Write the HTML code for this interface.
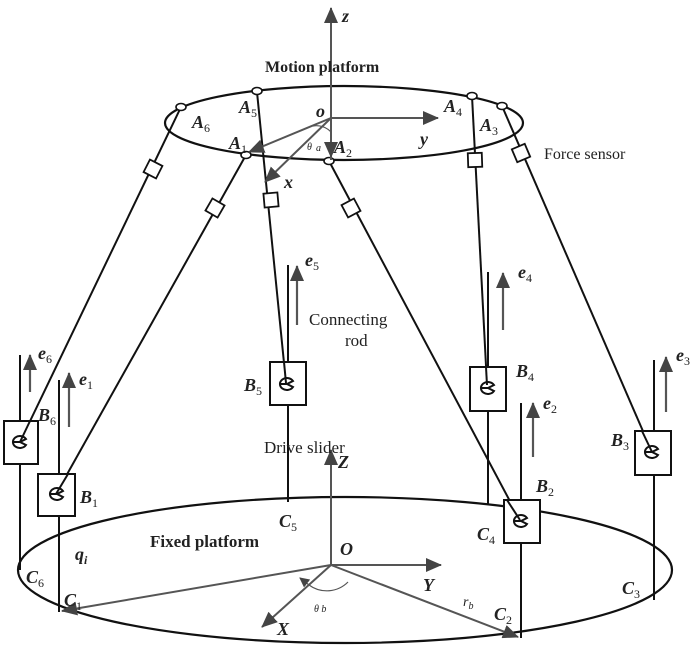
<!DOCTYPE html>
<html><head><meta charset="utf-8"><style>
html,body{margin:0;padding:0;background:#fff;}
svg{display:block;}
text{font-family:"Liberation Serif",serif;fill:#222;}
.b{font-weight:bold;font-style:italic;}
.i{font-style:italic;}
tspan{font-style:normal;}
</style></head><body>
<svg width="700" height="657" viewBox="0 0 700 657" xmlns="http://www.w3.org/2000/svg">
<defs>
<marker id="ah" markerWidth="10" markerHeight="10" refX="9" refY="5" orient="auto" markerUnits="userSpaceOnUse" viewBox="0 0 10 10">
<path d="M0,0 L10,5 L0,10 z" fill="#444"/></marker>
<marker id="ahL" markerWidth="16" markerHeight="14" refX="15" refY="7" orient="auto" markerUnits="userSpaceOnUse" viewBox="0 0 16 14">
<path d="M0,0 L16,7 L0,14 z" fill="#444"/></marker>
</defs>
<g fill="none" stroke="#111" stroke-width="2.2">
<ellipse cx="344" cy="123" rx="179" ry="37"/>
<ellipse cx="345" cy="570" rx="327" ry="73"/>
</g>
<g stroke="#111" stroke-width="2" fill="none">
<line x1="20" y1="355" x2="20" y2="570"/>
<line x1="59" y1="380" x2="59" y2="612"/>
<line x1="288" y1="265" x2="288" y2="502"/>
<line x1="488" y1="272" x2="488" y2="505"/>
<line x1="521" y1="403" x2="521" y2="638"/>
<line x1="654" y1="360" x2="654" y2="600"/>
<line x1="181" y1="107" x2="20" y2="442"/>
<line x1="246" y1="155" x2="56" y2="494"/>
<line x1="257" y1="92" x2="286" y2="383"/>
<line x1="329" y1="161" x2="520" y2="520"/>
<line x1="472" y1="96" x2="487" y2="385"/>
<line x1="502" y1="106" x2="652" y2="452"/>
</g>
<g fill="#fff" stroke="#111" stroke-width="2">
<rect x="4" y="421" width="34" height="43"/>
<rect x="38" y="474" width="37" height="42"/>
<rect x="270" y="362" width="36" height="43"/>
<rect x="470" y="367" width="36" height="44"/>
<rect x="504" y="500" width="36" height="43"/>
<rect x="635" y="431" width="36" height="44"/>
</g>
<g stroke="#111" stroke-width="2">
<line x1="30" y1="421" x2="20" y2="442"/>
<line x1="68" y1="474" x2="56" y2="494"/>
<line x1="284" y1="362" x2="286" y2="383"/>
<line x1="486" y1="367" x2="487" y2="385"/>
<line x1="507" y1="500" x2="520" y2="520"/>
<line x1="642" y1="431" x2="652" y2="452"/>
</g>
<g fill="none" stroke="#111" stroke-width="2">
<g transform="translate(20,442)"><path d="M6,-3 A7,6 0 1 0 6,3 L0,0 Z"/><line x1="-7" y1="0" x2="0" y2="0"/></g>
<g transform="translate(57,494)"><path d="M6,-3 A7,6 0 1 0 6,3 L0,0 Z"/><line x1="-7" y1="0" x2="0" y2="0"/></g>
<g transform="translate(287,384)"><path d="M6,-3 A7,6 0 1 0 6,3 L0,0 Z"/><line x1="-7" y1="0" x2="0" y2="0"/></g>
<g transform="translate(488,388)"><path d="M6,-3 A7,6 0 1 0 6,3 L0,0 Z"/><line x1="-7" y1="0" x2="0" y2="0"/></g>
<g transform="translate(521,521)"><path d="M6,-3 A7,6 0 1 0 6,3 L0,0 Z"/><line x1="-7" y1="0" x2="0" y2="0"/></g>
<g transform="translate(652,452)"><path d="M6,-3 A7,6 0 1 0 6,3 L0,0 Z"/><line x1="-7" y1="0" x2="0" y2="0"/></g>
</g>
<g fill="#fff" stroke="#111" stroke-width="1.8">
<rect x="-7" y="-7" width="14" height="14" transform="translate(153,169) rotate(27)"/>
<rect x="-7" y="-7" width="14" height="14" transform="translate(215,208) rotate(30)"/>
<rect x="-7" y="-7" width="14" height="14" transform="translate(271,200) rotate(-5)"/>
<rect x="-7" y="-7" width="14" height="14" transform="translate(351,208) rotate(-28)"/>
<rect x="-7" y="-7" width="14" height="14" transform="translate(475,160) rotate(-2)"/>
<rect x="-7" y="-7" width="14" height="14" transform="translate(521,153) rotate(-23)"/>
</g>
<g fill="#fff" stroke="#111" stroke-width="1.6">
<ellipse cx="181" cy="107" rx="5" ry="3.5"/>
<ellipse cx="257" cy="91" rx="5" ry="3.5"/>
<ellipse cx="472" cy="96" rx="5" ry="3.5"/>
<ellipse cx="502" cy="106" rx="5" ry="3.5"/>
<ellipse cx="246" cy="155" rx="5" ry="3.5"/>
<ellipse cx="329" cy="161" rx="5" ry="3.5"/>
</g>
<g stroke="#555" stroke-width="2" fill="none">
<line x1="331" y1="160" x2="331" y2="8" marker-end="url(#ahL)"/>
<line x1="331" y1="118" x2="438" y2="118" marker-end="url(#ahL)"/>
<line x1="331" y1="118" x2="265" y2="182" marker-end="url(#ahL)"/>
<line x1="331" y1="118" x2="249" y2="152" marker-end="url(#ahL)"/>
<line x1="331" y1="118" x2="331" y2="157" marker-end="url(#ahL)"/>
<path d="M313,126 A20,20 0 0 1 331,132" stroke-width="1.2"/>
</g>
<g stroke="#555" stroke-width="2" fill="none">
<line x1="331" y1="565" x2="331" y2="450" marker-end="url(#ahL)"/>
<line x1="331" y1="565" x2="441" y2="565" marker-end="url(#ahL)"/>
<line x1="331" y1="565" x2="262" y2="627" marker-end="url(#ahL)"/>
<line x1="331" y1="565" x2="62" y2="611" marker-end="url(#ahL)"/>
<line x1="331" y1="565" x2="518" y2="637" marker-end="url(#ahL)"/>
<path d="M309,585 A30,30 0 0 0 348,582" stroke-width="1.2"/>
<line x1="309" y1="585" x2="300" y2="578" marker-end="url(#ah)" stroke-width="1.2"/>
</g>
<g stroke="#555" stroke-width="2.2">
<line x1="30" y1="392" x2="30" y2="355" marker-end="url(#ahL)"/>
<line x1="69" y1="427" x2="69" y2="373" marker-end="url(#ahL)"/>
<line x1="297" y1="325" x2="297" y2="266" marker-end="url(#ahL)"/>
<line x1="503" y1="330" x2="503" y2="273" marker-end="url(#ahL)"/>
<line x1="533" y1="457" x2="533" y2="403" marker-end="url(#ahL)"/>
<line x1="666" y1="412" x2="666" y2="357" marker-end="url(#ahL)"/>
</g>
<g font-size="18">
<text x="342" y="22" class="b">z</text>
<text x="265" y="72" font-weight="bold" font-size="16">Motion platform</text>
<text x="316" y="117" class="b">o</text>
<text x="420" y="145" class="b">y</text>
<text x="284" y="188" class="b">x</text>
<text x="307" y="150" class="i" font-size="10" fill="#444">θ</text><text x="316" y="151" class="i" font-size="10">a</text>
<text x="192" y="128" class="b">A<tspan font-size="12" dy="4" font-weight="normal">6</tspan></text>
<text x="239" y="113" class="b">A<tspan font-size="12" dy="4" font-weight="normal">5</tspan></text>
<text x="229" y="149" class="b">A<tspan font-size="12" dy="4" font-weight="normal">1</tspan></text>
<text x="334" y="153" class="b">A<tspan font-size="12" dy="4" font-weight="normal">2</tspan></text>
<text x="444" y="112" class="b">A<tspan font-size="12" dy="4" font-weight="normal">4</tspan></text>
<text x="480" y="131" class="b">A<tspan font-size="12" dy="4" font-weight="normal">3</tspan></text>
<text x="544" y="159" font-size="16">Force sensor</text>
<text x="309" y="325" font-size="17">Connecting</text>
<text x="345" y="346" font-size="17">rod</text>
<text x="264" y="453" font-size="17">Drive slider</text>
<text x="38" y="359" class="b">e<tspan font-size="12" dy="4" font-weight="normal">6</tspan></text>
<text x="79" y="385" class="b">e<tspan font-size="12" dy="4" font-weight="normal">1</tspan></text>
<text x="305" y="266" class="b">e<tspan font-size="12" dy="4" font-weight="normal">5</tspan></text>
<text x="518" y="278" class="b">e<tspan font-size="12" dy="4" font-weight="normal">4</tspan></text>
<text x="543" y="409" class="b">e<tspan font-size="12" dy="4" font-weight="normal">2</tspan></text>
<text x="676" y="361" class="b">e<tspan font-size="12" dy="4" font-weight="normal">3</tspan></text>
<text x="38" y="421" class="b">B<tspan font-size="12" dy="4" font-weight="normal">6</tspan></text>
<text x="80" y="503" class="b">B<tspan font-size="12" dy="4" font-weight="normal">1</tspan></text>
<text x="244" y="391" class="b">B<tspan font-size="12" dy="4" font-weight="normal">5</tspan></text>
<text x="516" y="377" class="b">B<tspan font-size="12" dy="4" font-weight="normal">4</tspan></text>
<text x="536" y="492" class="b">B<tspan font-size="12" dy="4" font-weight="normal">2</tspan></text>
<text x="611" y="446" class="b">B<tspan font-size="12" dy="4" font-weight="normal">3</tspan></text>
<text x="338" y="468" class="b">Z</text>
<text x="150" y="547" font-weight="bold" font-size="17">Fixed platform</text>
<text x="279" y="527" class="b">C<tspan font-size="12" dy="4" font-weight="normal">5</tspan></text>
<text x="477" y="540" class="b">C<tspan font-size="12" dy="4" font-weight="normal">4</tspan></text>
<text x="75" y="560" class="b">q<tspan font-size="12" dy="4" class="i">i</tspan></text>
<text x="26" y="583" class="b">C<tspan font-size="12" dy="4" font-weight="normal">6</tspan></text>
<text x="64" y="606" class="b">C<tspan font-size="12" dy="4" font-weight="normal">1</tspan></text>
<text x="340" y="555" class="b">O</text>
<text x="423" y="591" class="b">Y</text>
<text x="277" y="635" class="b">X</text>
<text x="314" y="612" class="i" font-size="10">θ b</text>
<text x="463" y="606" class="i" font-size="14">r<tspan font-size="10" dy="3" style="font-style:italic">b</tspan></text>
<text x="494" y="620" class="b">C<tspan font-size="12" dy="4" font-weight="normal">2</tspan></text>
<text x="622" y="594" class="b">C<tspan font-size="12" dy="4" font-weight="normal">3</tspan></text>
</g>
</svg>
</body></html>
